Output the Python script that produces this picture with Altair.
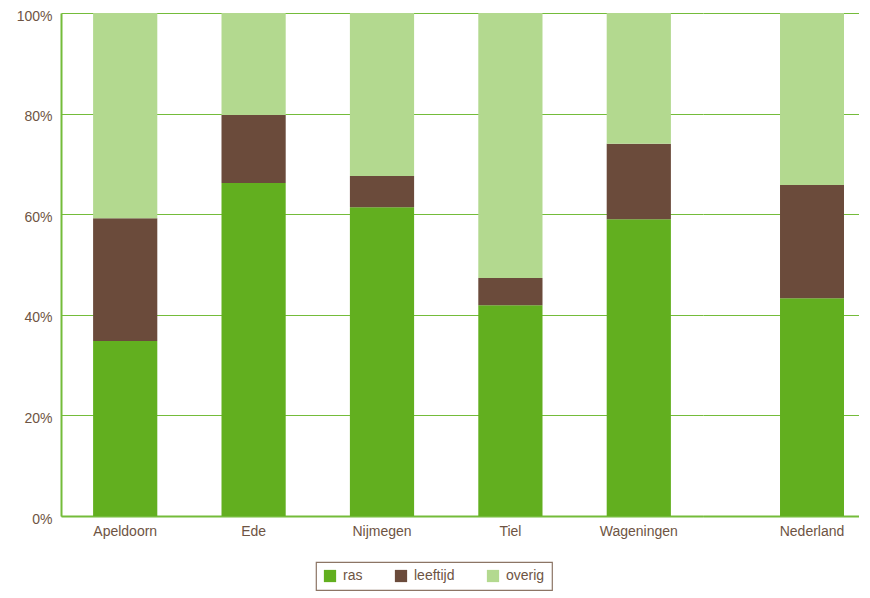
import altair as alt
import pandas as pd

categories = ["Apeldoorn", "Ede", "Nijmegen", "Tiel", "Wageningen", "Nederland"]
ras = [34.8, 66.2, 61.4, 41.9, 59.0, 43.3]
leeftijd = [24.4, 13.5, 6.2, 5.4, 15.0, 22.5]
overig = [40.8, 20.3, 32.4, 52.7, 26.0, 34.2]
series = ["ras", "leeftijd", "overig"]
colors = ["#62AF1F", "#6B4B3B", "#B3D98F"]

rows = []
for i, c in enumerate(categories):
    for j, (s, vals) in enumerate(zip(series, [ras, leeftijd, overig])):
        rows.append({"plaats": c, "reeks": s, "waarde": vals[i], "volgorde": j})
df = pd.DataFrame(rows)

TEXT = "#6E5443"
GRID = "#74BC3A"
FONT = "Liberation Sans"

color = alt.Color("reeks:N", scale=alt.Scale(domain=series, range=colors),
                  legend=alt.Legend(title=None, orient="none", direction="horizontal",
                                    legendX=255, legendY=549))
order = alt.Order("volgorde:Q", sort="ascending")

left = alt.Chart(df[df["plaats"] != "Nederland"]).mark_bar().encode(
    x=alt.X("plaats:N", sort=categories[:5], title=None,
            scale=alt.Scale(paddingInner=0.5, paddingOuter=0.25),
            axis=alt.Axis(labelAngle=0, ticks=False, labelPadding=8, domainColor=GRID,
                          domainWidth=2)),
    y=alt.Y("waarde:Q", stack="normalize", title=None,
            axis=alt.Axis(format="%", values=[0, 0.2, 0.4, 0.6, 0.8, 1.0], ticks=False,
                          labelPadding=9, labelOffset=3, domainColor=GRID, domainWidth=2,
                          gridColor=GRID, gridWidth=1.2)),
    color=color, order=order,
).properties(width=642, height=503)

right = alt.Chart(df[df["plaats"] == "Nederland"]).mark_bar().encode(
    x=alt.X("plaats:N", title=None,
            scale=alt.Scale(paddingInner=0, paddingOuter=0.719, align=0.837),
            axis=alt.Axis(labelAngle=0, ticks=False, labelPadding=8, domainColor=GRID,
                          domainWidth=2)),
    y=alt.Y("waarde:Q", stack="normalize", title=None,
            axis=alt.Axis(labels=False, domain=False, ticks=False,
                          values=[0, 0.2, 0.4, 0.6, 0.8, 1.0],
                          gridColor=GRID, gridWidth=1.2)),
    color=color, order=order,
).properties(width=156, height=503)

chart = alt.hconcat(left, right, spacing=0).properties(
    background="white",
    padding={"left": 8, "top": 1, "right": 0, "bottom": 0},
).configure_view(
    stroke=None
).configure_axis(
    labelFont=FONT, labelFontSize=14, labelColor=TEXT
).configure_legend(
    labelFont=FONT, labelFontSize=14, labelColor=TEXT,
    symbolType="square", symbolSize=150, symbolStrokeWidth=0,
    strokeColor="#8C7565", strokeWidth=1.2, padding=7,
    columnPadding=31, labelOffset=6, fillColor="white",
)

chart.save("out.html", embed_options={"renderer": "svg", "actions": False})
